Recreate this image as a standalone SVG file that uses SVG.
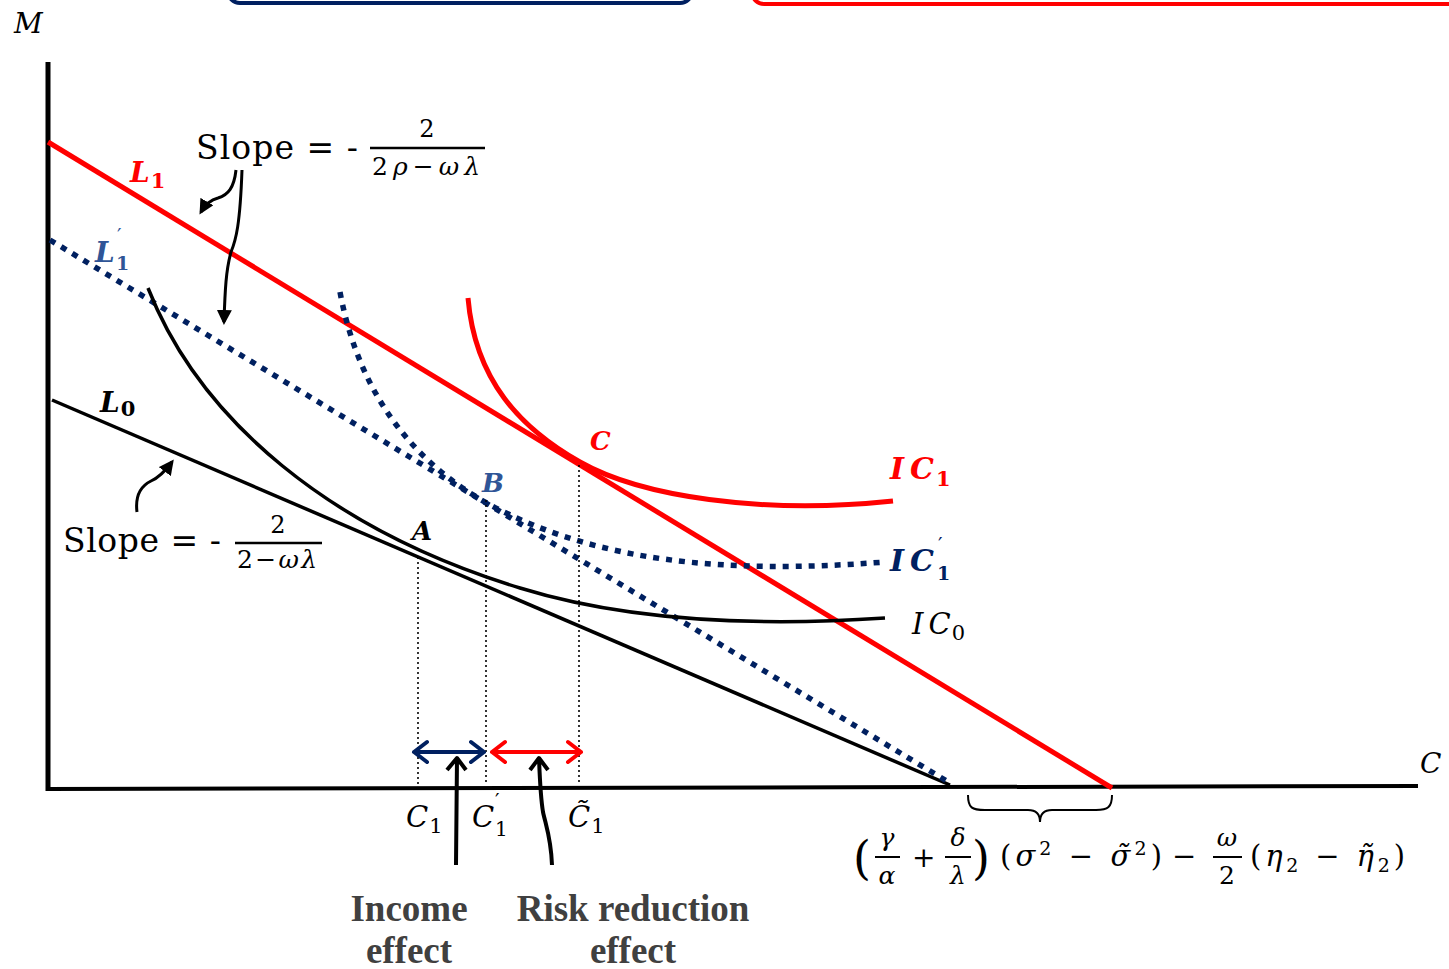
<svg xmlns="http://www.w3.org/2000/svg" width="1449" height="969" viewBox="0 0 1449 969">
<style>
.m{font-family:"DejaVu Serif","Liberation Serif",serif;font-style:italic}
.mb{font-family:"DejaVu Serif","Liberation Serif",serif;font-style:italic;font-weight:bold}
.sb{font-family:"DejaVu Serif","Liberation Serif",serif;font-weight:bold}
.r{font-family:"DejaVu Serif","Liberation Serif",serif}
.up{font-style:normal}
.eff{font-family:"Liberation Serif",serif;font-weight:bold;font-size:37px;fill:#404040;text-anchor:middle}
.vd{stroke:#000;stroke-width:1.6;stroke-dasharray:2 3;fill:none}
.navy{fill:#002060}
.blue{fill:#2F5597}
.red{fill:#FF0000}
</style>
<defs>
<marker id="tri" viewBox="0 0 10 10" refX="8" refY="5" markerWidth="5" markerHeight="5" orient="auto" markerUnits="strokeWidth">
<path d="M0,0 L10,5 L0,10 Z" fill="#000"/>
</marker>
</defs>

<g id="top-boxes">
<rect x="228" y="-60" width="464" height="63" rx="12" fill="none" stroke="#002060" stroke-width="4"/>
<rect x="752" y="-60" width="740" height="64" rx="12" fill="none" stroke="#FF0000" stroke-width="4"/>
</g>

<g id="axes">
<line x1="48" y1="62" x2="48" y2="791" stroke="#000" stroke-width="5"/>
<line x1="46" y1="789" x2="1418" y2="786" stroke="#000" stroke-width="4"/>
<text class="m" x="14" y="33" font-size="28">M</text>
<text class="m" x="1420" y="773" font-size="28">C</text>
</g>

<g id="connectors">
<line id="L0-line" x1="52" y1="400" x2="950" y2="785" stroke="#000" stroke-width="3.5"/>
<line id="L1p-line" x1="50" y1="240" x2="950" y2="783" stroke="#002060" stroke-width="5.5" stroke-dasharray="6 7"/>
<line id="L1-line" x1="48" y1="142" x2="1112" y2="788" stroke="#FF0000" stroke-width="5"/>
<path id="IC0-curve" d="M148,288 C200,420 330,530 520,588 C640,625 780,625 885,618" fill="none" stroke="#000" stroke-width="3.5"/>
<path id="IC1p-curve" d="M340,292 C360,400 420,470 500,510 C600,560 720,575 885,562" fill="none" stroke="#002060" stroke-width="5.5" stroke-dasharray="6 7"/>
<path id="IC1-curve" d="M468,298 C475,380 520,428 580,462 C640,496 760,515 893,501" fill="none" stroke="#FF0000" stroke-width="5"/>
<line class="vd" x1="418" y1="557" x2="418" y2="785"/>
<line class="vd" x1="486" y1="500" x2="486" y2="785"/>
<line class="vd" x1="579" y1="465" x2="579" y2="785"/>
<g fill="none" stroke-width="4" stroke-linecap="round" stroke-linejoin="round">
<path d="M414,752 L484,752 M427,742 L414,752 L427,762 M471,742 L484,752 L471,762" stroke="#002060"/>
<path d="M492,752 L581,752 M505,742 L492,752 L505,762 M568,742 L581,752 L568,762" stroke="#FF0000"/>
</g>
<g fill="none" stroke="#000" stroke-width="4" stroke-linejoin="round">
<path d="M456,865 L457,758 M447,770 L457,758 L466,770"/>
<path d="M552,865 C551,838 546,826 543,812 C541,800 540,785 539,758 M530,770 L539,758 L548,770"/>
</g>
<g fill="none" stroke="#000" stroke-width="3">
<path d="M236,170 C234,188 228,195 218,198 C210,200 205,205 201,212" marker-end="url(#tri)"/>
<path d="M242,170 C240,225 236,240 231,252 C226,270 225,290 224,322" marker-end="url(#tri)"/>
<path d="M137,512 C135,496 141,486 151,481 C160,477 166,470 172,462" marker-end="url(#tri)"/>
</g>
<path d="M968,795 C968,808 972,810 985,810 L1028,810 C1036,810 1040,814 1040,822 C1040,814 1044,810 1052,810 L1096,810 C1108,810 1112,807 1112,795" fill="none" stroke="#000" stroke-width="2"/>
</g>

<g id="label-L1"><text class="mb red" x="130" y="182" font-size="28">L<tspan class="up" font-size="21" dx="1" dy="6">1</tspan></text></g>
<g id="label-L1p"><text class="mb blue" x="95" y="262" font-size="28">L</text><text class="r blue" x="117" y="243" font-size="20">′</text><text class="sb blue" x="116" y="270" font-size="19">1</text></g>
<g id="label-L0"><text class="mb" x="100" y="412" font-size="28">L<tspan class="up" font-size="21" dx="1" dy="4">0</tspan></text></g>
<g id="label-A"><text class="mb" x="412" y="540" font-size="26">A</text></g>
<g id="label-B"><text class="mb blue" x="482" y="492" font-size="26">B</text></g>
<g id="label-C"><text class="mb red" x="590" y="450" font-size="26">C</text></g>
<g id="label-IC1"><text class="mb red" x="890" y="479" font-size="30">I<tspan dx="6">C</tspan><tspan class="up" font-size="21" dx="2" dy="7">1</tspan></text></g>
<g id="label-IC1p"><text class="mb navy" x="890" y="571" font-size="30">I<tspan dx="6">C</tspan></text><text class="r navy" x="938" y="552" font-size="20">′</text><text class="sb navy" x="937" y="580" font-size="19">1</text></g>
<g id="label-IC0"><text class="m" x="912" y="634" font-size="29">I<tspan dx="5">C</tspan><tspan class="up" font-size="21" dx="1" dy="6">0</tspan></text></g>

<g id="slope-top">
<text class="r" x="196" y="159" font-size="33" textLength="162" lengthAdjust="spacing">Slope = -</text>
<line x1="370" y1="148" x2="485" y2="148" stroke="#000" stroke-width="2.5"/>
<text class="r" x="427" y="137" font-size="24" text-anchor="middle">2</text>
<text class="r" x="372" y="175" font-size="25" textLength="108" lengthAdjust="spacing">2<tspan font-style="italic">ρ</tspan>−<tspan font-style="italic">ωλ</tspan></text>
</g>
<g id="slope-bottom">
<text class="r" x="63" y="552" font-size="33" textLength="158" lengthAdjust="spacing">Slope = -</text>
<line x1="235" y1="543" x2="322" y2="543" stroke="#000" stroke-width="2.5"/>
<text class="r" x="278" y="533" font-size="24" text-anchor="middle">2</text>
<text class="r" x="237" y="568" font-size="25" textLength="80" lengthAdjust="spacing">2−<tspan font-style="italic">ωλ</tspan></text>
</g>

<g id="label-C1"><text class="m" x="406" y="827" font-size="29">C<tspan class="up" font-size="21" dx="1" dy="6">1</tspan></text></g>
<g id="label-C1p"><text class="m" x="472" y="827" font-size="29">C</text><text class="r" x="495" y="808" font-size="20">′</text><text class="r" x="495" y="836" font-size="20">1</text></g>
<g id="label-C1t"><text class="m" x="568" y="827" font-size="29">C̃<tspan class="up" font-size="21" dx="1" dy="6">1</tspan></text></g>

<g id="label-income"><text class="eff" x="409" y="921">Income</text><text class="eff" x="409" y="963">effect</text></g>
<g id="label-risk"><text class="eff" x="633" y="921">Risk reduction</text><text class="eff" x="633" y="963">effect</text></g>

<g id="formula">
<text class="r" x="853" y="874" font-size="46">(</text>
<text class="m" x="887" y="846" font-size="25" text-anchor="middle">γ</text>
<line x1="875" y1="857" x2="900" y2="857" stroke="#000" stroke-width="2"/>
<text class="m" x="887" y="884" font-size="25" text-anchor="middle">α</text>
<text class="r" x="912" y="867" font-size="28">+</text>
<text class="m" x="958" y="846" font-size="25" text-anchor="middle">δ</text>
<line x1="945" y1="857" x2="971" y2="857" stroke="#000" stroke-width="2"/>
<text class="m" x="958" y="884" font-size="25" text-anchor="middle">λ</text>
<text class="r" x="972" y="874" font-size="46">)</text>
<text class="r" x="1000" y="866" font-size="29" textLength="162" lengthAdjust="spacing">(<tspan font-style="italic">σ</tspan><tspan font-size="19" dy="-11">2</tspan><tspan dy="11"> − </tspan><tspan font-style="italic">σ̃</tspan><tspan font-size="19" dy="-11">2</tspan><tspan dy="11">)</tspan></text>
<text class="r" x="1172" y="866" font-size="29">−</text>
<text class="m" x="1227" y="846" font-size="25" text-anchor="middle">ω</text>
<line x1="1213" y1="857" x2="1242" y2="857" stroke="#000" stroke-width="2"/>
<text class="r" x="1227" y="884" font-size="25" text-anchor="middle">2</text>
<text class="r" x="1250" y="866" font-size="29" textLength="155" lengthAdjust="spacing">(<tspan font-style="italic">η</tspan><tspan font-size="19" dy="6">2</tspan><tspan dy="-6"> − </tspan><tspan font-style="italic">η̃</tspan><tspan font-size="19" dy="6">2</tspan><tspan dy="-6">)</tspan></text>
</g>
</svg>
